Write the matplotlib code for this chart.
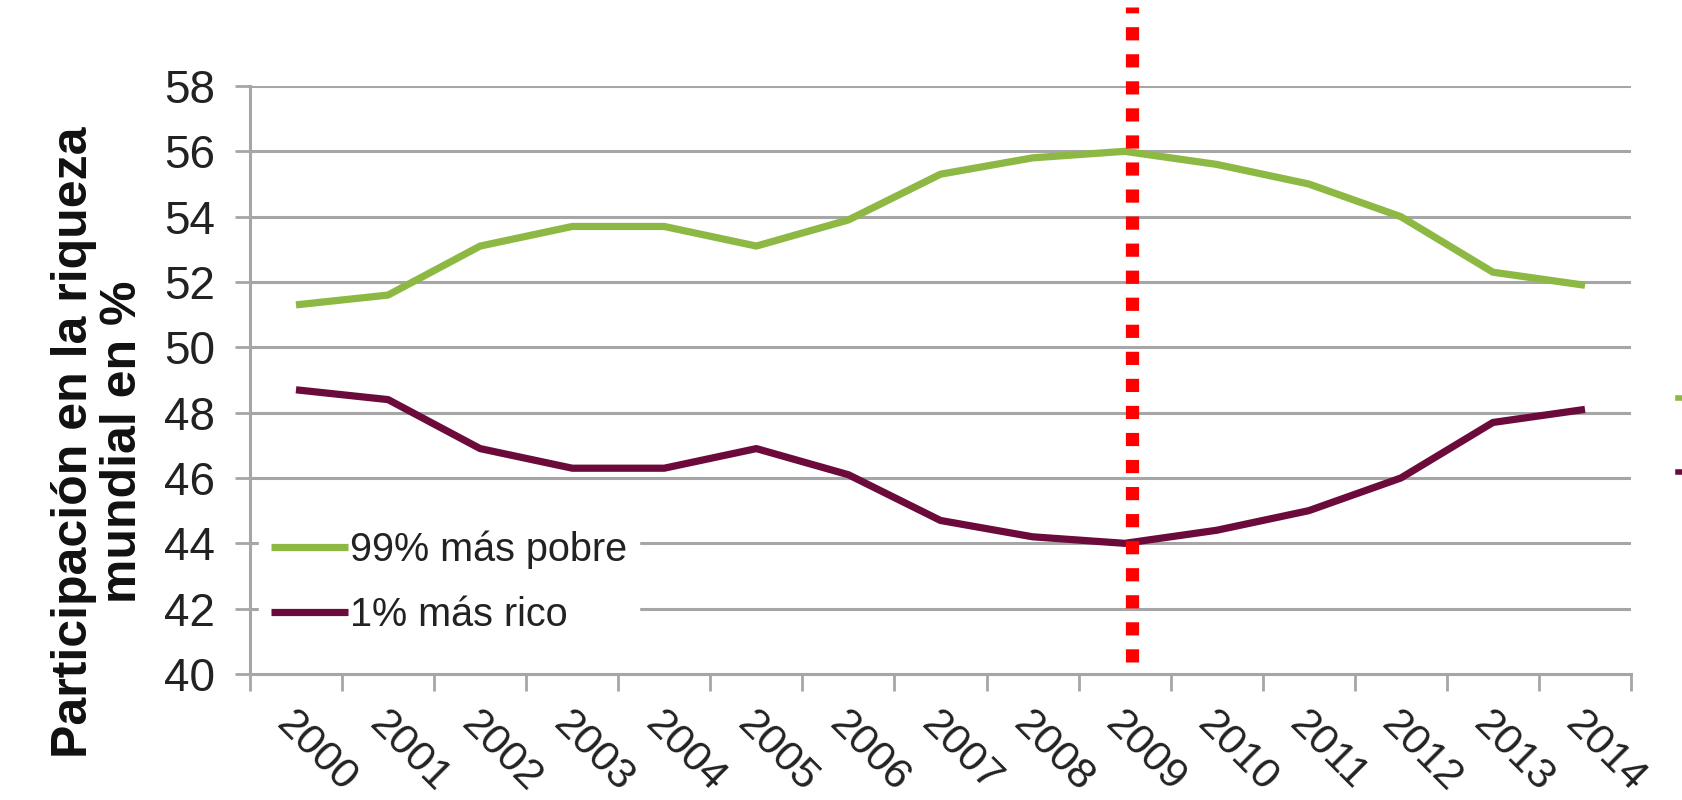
import matplotlib
matplotlib.use("Agg")
import matplotlib.pyplot as plt
import matplotlib.transforms as mtransforms
from matplotlib.lines import Line2D

plt.rcParams['font.family'] = ['Liberation Sans', 'DejaVu Sans']

# Datos
years = ['2000', '2001', '2002', '2003', '2004', '2005', '2006', '2007',
         '2008', '2009', '2010', '2011', '2012', '2013', '2014']
pobre_99 = [51.3, 51.6, 53.1, 53.7, 53.7, 53.1, 53.9, 55.3,
            55.8, 56.0, 55.6, 55.0, 54.0, 52.3, 51.9]
rico_1 = [48.7, 48.4, 46.9, 46.3, 46.3, 46.9, 46.1, 44.7,
          44.2, 44.0, 44.4, 45.0, 46.0, 47.7, 48.1]
y_ticks = [40, 42, 44, 46, 48, 50, 52, 54, 56, 58]
crisis_year = 9.08  # posición de la línea roja (2009)

green = '#8DB843'
maroon = '#6B0A3B'
grid_c = '#A6A6A6'

fig = plt.figure(figsize=(16.82, 8.0), dpi=100)
ax = fig.add_axes([0.1486, 0.1575, 0.9697 - 0.1486, 0.8925 - 0.1575])

x = list(range(len(years)))
ax.set_xlim(-0.5, len(years) - 0.5)
ax.set_ylim(40, 58)

for v in y_ticks[1:]:
    ax.axhline(v, color=grid_c, lw=2.2, zorder=1)

ax.plot(x, pobre_99, color=green, lw=5.2, solid_joinstyle='round',
        solid_capstyle='butt', label='99% más pobre', zorder=3)
ax.plot(x, rico_1, color=maroon, lw=5.2, solid_joinstyle='round',
        solid_capstyle='butt', label='1% más rico', zorder=3)

# línea roja punteada
trans = mtransforms.blended_transform_factory(ax.transData, ax.transAxes)
ax.plot([crisis_year, crisis_year], [0.02, 1.135], transform=trans,
        color='#FF0000', lw=9.5, linestyle=(0, (1, 1.05)),
        dash_capstyle='butt', clip_on=False, zorder=5)

for s in ['top', 'right']:
    ax.spines[s].set_visible(False)
ax.spines['left'].set_color(grid_c)
ax.spines['left'].set_linewidth(2.2)
ax.spines['bottom'].set_color(grid_c)
ax.spines['bottom'].set_linewidth(2.2)

ax.set_yticks(y_ticks)
ax.set_yticklabels([str(v) for v in y_ticks], fontsize=33, color='#222222')
ax.tick_params(axis='y', length=11, width=2, color=grid_c, pad=14)

# ticks del eje x en los bordes de las categorías
ax.set_xticks([i - 0.5 for i in range(len(years) + 1)])
ax.set_xticklabels([])
ax.tick_params(axis='x', length=12, width=2, color=grid_c, direction='out')
for i, yr in enumerate(years):
    ax.text(i - 0.14, -0.075, yr, transform=trans, rotation=-45,
            rotation_mode='anchor', ha='left', va='center',
            fontsize=31, color='#222222')

fig.text(0.0585, 0.4475, 'Participación en la riqueza\nmundial en %',
         rotation=90, ha='center', va='center', fontsize=36,
         fontweight='bold', linespacing=1.1, color='#111111')

leg = ax.legend(loc='lower left', bbox_to_anchor=(-0.008, 0.015), fontsize=28.5,
                frameon=True, handlelength=1.95, handletextpad=0.05,
                labelspacing=0.68, borderpad=0.3, fancybox=False)
leg.get_frame().set_edgecolor('white')
leg.get_frame().set_facecolor('white')
leg.get_frame().set_alpha(1.0)
leg.set_zorder(4)
for t in leg.get_texts():
    t.set_color('#222222')

# restos de leyenda cortada a la derecha
fig.add_artist(Line2D([0.9975, 1.0], [0.503, 0.503], color=green, lw=4,
                      transform=fig.transFigure))
fig.add_artist(Line2D([0.9975, 1.0], [0.41, 0.41], color=maroon, lw=4,
                      transform=fig.transFigure))

fig.savefig('out.png', dpi=100, facecolor='white')
